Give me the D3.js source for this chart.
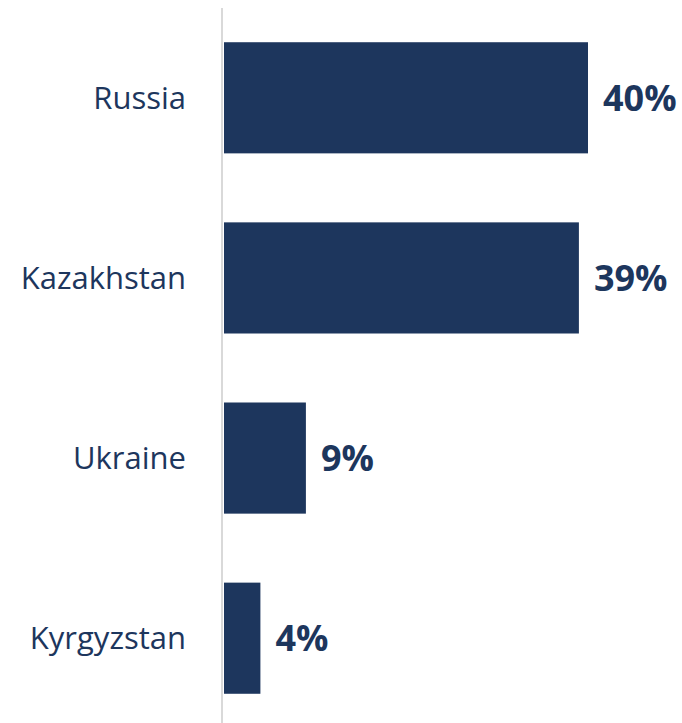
<!doctype html>
<html lang="en">

<head>
    <meta charset="UTF-8" />
    <script src="https://d3js.org/d3.v7.min.js"></script>
    <title>Share by country</title>
    <style>
        body { margin: 0; background: #fff; }
    </style>
</head>

<body>
    <div id="chart"></div>
    <script>
        // Data
        const countries = ["Russia", "Kazakhstan", "Ukraine", "Kyrgyzstan"]
        const shares = [40, 39, 9, 4]

        const W = 682
        const H = 723
        const axisX = 222
        const navy = "#1d365d"

        const svg = d3.select("#chart")
            .append("svg")
            .attr("width", W)
            .attr("height", H)

        const x = d3.scaleLinear().domain([0, 40]).range([axisX + 2, axisX + 2 + 364])
        const y = d3.scaleBand().domain(countries).range([8, 728]).paddingInner(0.383).paddingOuter(0.19)

        const rows = countries.map((c, i) => ({ country: c, value: shares[i] }))

        // Bars
        svg.selectAll("rect.bar")
            .data(rows)
            .enter()
            .append("rect")
            .attr("class", "bar")
            .attr("x", x(0))
            .attr("y", d => y(d.country))
            .attr("width", d => x(d.value) - x(0))
            .attr("height", y.bandwidth())
            .attr("fill", navy)

        // Vertical axis line
        svg.append("line")
            .attr("x1", axisX).attr("x2", axisX)
            .attr("y1", 8).attr("y2", H)
            .attr("stroke", "#d9d9d9")
            .attr("stroke-width", 2)

        // Category labels
        svg.selectAll("text.cat")
            .data(rows)
            .enter()
            .append("text")
            .attr("class", "cat")
            .attr("x", 186)
            .attr("y", d => y(d.country) + y.bandwidth() / 2)
            .attr("dy", "0.35em")
            .attr("text-anchor", "end")
            .attr("font-family", "Open Sans, sans-serif")
            .attr("font-size", "31px")
            .attr("fill", navy)
            .text(d => d.country)

        // Value labels
        svg.selectAll("text.val")
            .data(rows)
            .enter()
            .append("text")
            .attr("class", "val")
            .attr("x", d => x(d.value) + 15)
            .attr("y", d => y(d.country) + y.bandwidth() / 2)
            .attr("dy", "0.36em")
            .attr("font-family", "Open Sans, sans-serif")
            .attr("font-weight", "bold")
            .attr("font-size", "36px")
            .attr("fill", navy)
            .text(d => d.value + "%")
    </script>
</body>

</html>
